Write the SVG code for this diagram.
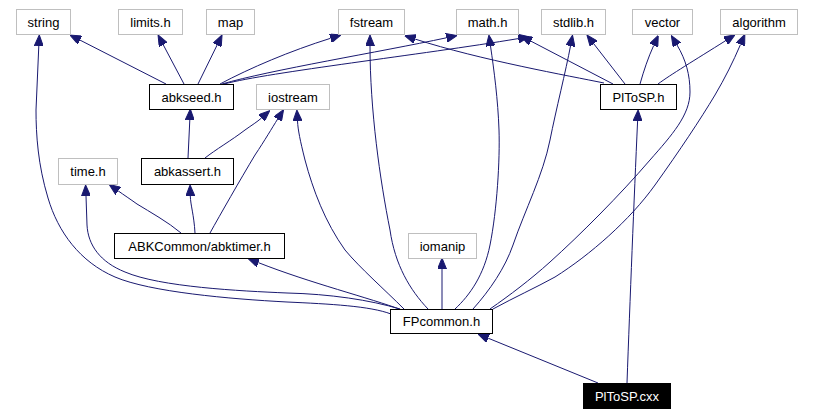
<svg xmlns="http://www.w3.org/2000/svg" width="834" height="415" viewBox="0 0 834 415">
<style>
.n rect{fill:#fff;stroke:#000;stroke-width:1}
.g rect{stroke:#bfbfbf}
.n text{font-family:"Liberation Sans",Arial,sans-serif;font-size:13px;text-anchor:middle;fill:#000}
.r rect{fill:#000;stroke:#000}
.r text{fill:#fff}
#edges path{fill:none;stroke:#191970;stroke-width:1;marker-end:url(#ah)}
</style>
<defs>
<marker id="ah" viewBox="0 0 11 9" refX="0" refY="4.5" markerWidth="11" markerHeight="9" markerUnits="userSpaceOnUse" orient="auto">
<path d="M0,0 L11,4.5 L0,9 z" fill="#191970" stroke="#191970" stroke-width="1"/>
</marker>
</defs>
<rect width="834" height="415" fill="#fff"/>
<g id="edges">
<path d="M166,84 L79.8,40"/>
<path d="M184,84 L163.2,44.7"/>
<path d="M198,84 L217.2,44.9"/>
<path d="M220,84 C250,68 290,51 330.5,38.3"/>
<path d="M222,84 C270,70 380,52 446.4,37.8"/>
<path d="M224,84 C270,72 420,55 518.3,38.6"/>
<path d="M613,84 L530.8,41.1"/>
<path d="M391,314 C370,306 330,304 287,302 C230,299 150,292 115,277 C80,262 58,232 48,198 C38,165 36,135 36,110 L38.8,46"/>
<path d="M400,309 C370,300 330,294 287,293 C240,291 160,287 125,272 C100,262 88,245 87,225 L86,196"/>
<path d="M181,233 C168,222 150,212 137,204 C130,199 124,195 118.2,190.9"/>
<path d="M195,233 C194,215 190.5,205 190.3,196"/>
<path d="M210,233 C220,215 240,180 255,155 C265,140 272,128 277.7,119"/>
<path d="M205,158 C215,150 232,140 245,130 C252,125 257,122 261.5,118"/>
<path d="M404,309 C385,290 360,268 345,250 C325,222 313,190 305,160 C300,140 298,130 297.5,121"/>
<path d="M188,158 L189.8,120"/>
<path d="M402,310 C370,298 310,283 258.3,262.6"/>
<path d="M442,309 L442,269"/>
<path d="M428,309 C410,290 395,265 390,230 C380,180 370,110 370,46"/>
<path d="M455,309 C470,295 484,275 490,245 C497,210 500,160 499,130 C498,100 494,70 490.5,46"/>
<path d="M473,309 C490,290 505,268 513,245 C525,210 543,175 550,140 C556,110 566,70 570.5,46"/>
<path d="M490,309 C510,295 530,280 550,262 C580,235 620,195 650,160 C672,135 690,115 690,92 C690,75 686,60 677,45"/>
<path d="M493,309 C515,297 535,288 555,277 C590,255 630,220 655,185 C680,150 700,120 715,95 C725,78 733,62 740.5,44.5"/>
<path d="M598,383 L488.2,338.2"/>
<path d="M627,383 C630,300 634,200 637.6,121"/>
<path d="M604,83 C570,76 480,60 415.2,39.1"/>
<path d="M625,84 L593.7,43.7"/>
<path d="M640,84 C644,70 648,58 653.7,45.5"/>
<path d="M658,84 C670,75 695,60 725.6,40.7"/>
</g>
<g id="string" class="n g"><rect x="16.5" y="9.5" width="54" height="25"/><text x="43.5" y="26.5">string</text></g>
<g id="limits_h" class="n g"><rect x="118.5" y="9.5" width="64" height="25"/><text x="150.5" y="26.5">limits.h</text></g>
<g id="map" class="n g"><rect x="206.5" y="9.5" width="48" height="25"/><text x="230.5" y="26.5">map</text></g>
<g id="fstream" class="n g"><rect x="338.5" y="9.5" width="66" height="25"/><text x="371.5" y="26.5">fstream</text></g>
<g id="math_h" class="n g"><rect x="456.5" y="9.5" width="62" height="25"/><text x="487.5" y="26.5">math.h</text></g>
<g id="stdlib_h" class="n g"><rect x="541.5" y="9.5" width="64" height="25"/><text x="573.5" y="26.5">stdlib.h</text></g>
<g id="vector" class="n g"><rect x="632.5" y="9.5" width="60" height="25"/><text x="662.5" y="26.5">vector</text></g>
<g id="algorithm" class="n g"><rect x="720.5" y="9.5" width="77" height="25"/><text x="759" y="26.5">algorithm</text></g>
<g id="abkseed_h" class="n"><rect x="149.5" y="84.5" width="84" height="25"/><text x="191.5" y="101.5">abkseed.h</text></g>
<g id="iostream" class="n g"><rect x="256.5" y="84.5" width="73" height="25"/><text x="293" y="101.5">iostream</text></g>
<g id="PlToSP_h" class="n"><rect x="600.5" y="84.5" width="76" height="25"/><text x="638.5" y="101.5">PlToSP.h</text></g>
<g id="time_h" class="n g"><rect x="58.5" y="158.5" width="59" height="26"/><text x="88" y="176">time.h</text></g>
<g id="abkassert_h" class="n"><rect x="141.5" y="158.5" width="92" height="26"/><text x="187.5" y="176">abkassert.h</text></g>
<g id="abktimer_h" class="n"><rect x="114.5" y="233.5" width="170" height="25"/><text x="199.5" y="250.5">ABKCommon/abktimer.h</text></g>
<g id="iomanip" class="n g"><rect x="408.5" y="233.5" width="68" height="25"/><text x="442.5" y="250.5">iomanip</text></g>
<g id="FPcommon_h" class="n"><rect x="390.5" y="309.5" width="102" height="24"/><text x="441.5" y="326">FPcommon.h</text></g>
<g id="PlToSP_cxx" class="n r"><rect x="583.5" y="383.5" width="87" height="25"/><text x="627" y="400.5">PlToSP.cxx</text></g>
</svg>
